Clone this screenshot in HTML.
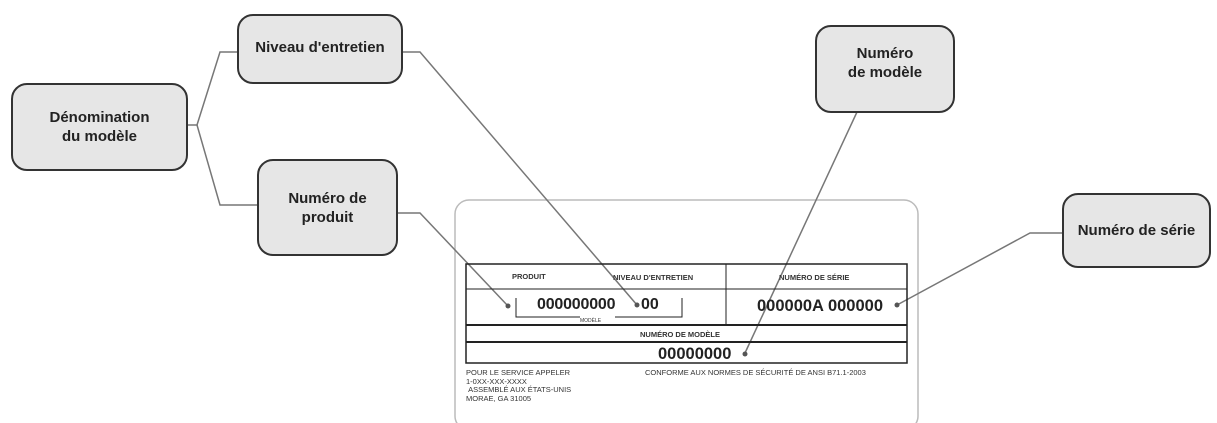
<!DOCTYPE html>
<html><head><meta charset="utf-8"><style>
body{margin:0;background:#fff;width:1217px;height:423px;overflow:hidden;position:relative;font-family:"Liberation Sans",sans-serif}
.b{position:absolute;box-sizing:border-box;background:#e6e6e6;border:2px solid #333;border-radius:16px;display:flex;align-items:center;justify-content:center;text-align:center;font-weight:bold;font-size:15px;line-height:19px;color:#222}
svg{position:absolute;left:0;top:0}
.t{position:absolute;font-size:7.5px;color:#333;white-space:nowrap}
.n{position:absolute;font-size:16px;font-weight:bold;color:#222;white-space:nowrap}
</style></head><body>
<svg width="1217" height="423">
<rect x="455" y="200" width="463" height="230" rx="14" fill="#fff" stroke="#bbb" stroke-width="1.5"/>
<g fill="none" stroke="#777" stroke-width="1.5">
<polyline points="187,125 197,125 220,52 237,52"/>
<polyline points="197,125 220,205 257,205"/>
<polyline points="402,52 420,52 637,305"/>
<polyline points="397,213 420,213 508,306"/>
<polyline points="857,112 745,353"/>
<polyline points="1062,233 1030,233 897,305"/>
</g>
<g fill="none" stroke="#222">
<rect x="466" y="264" width="441" height="99" stroke-width="1.5"/>
<line x1="466" y1="289" x2="907" y2="289" stroke-width="1"/>
<line x1="466" y1="325" x2="907" y2="325" stroke-width="2"/>
<line x1="466" y1="342" x2="907" y2="342" stroke-width="2"/>
<line x1="726" y1="264" x2="726" y2="325" stroke-width="1"/>
<polyline points="516,298 516,317 580,317" stroke-width="1"/>
<polyline points="615,317 682,317 682,298" stroke-width="1"/>
</g>
<g fill="#555"><circle cx="508" cy="306" r="2.5"/><circle cx="637" cy="305" r="2.5"/><circle cx="897" cy="305" r="2.5"/><circle cx="745" cy="354" r="2.5"/></g>
</svg>
<div class="b" style="left:11px;top:83px;width:177px;height:88px">Dénomination<br>du modèle</div>
<div class="b" style="left:237px;top:14px;width:166px;height:70px;align-items:flex-start;padding-top:22px">Niveau d'entretien</div>
<div class="b" style="left:257px;top:159px;width:141px;height:97px">Numéro de<br>produit</div>
<div class="b" style="left:815px;top:25px;width:140px;height:88px;align-items:flex-start;padding-top:17px">Numéro<br>de modèle</div>
<div class="b" style="left:1062px;top:193px;width:149px;height:75px">Numéro de série</div>
<div class="t" style="left:512px;top:272px;font-weight:bold">PRODUIT</div>
<div class="t" style="left:613px;top:273px;font-weight:bold">NIVEAU D'ENTRETIEN</div>
<div class="t" style="left:779px;top:273px;font-weight:bold">NUMÉRO DE SÉRIE</div>
<div class="n" style="left:537px;top:296px;letter-spacing:-0.2px">000000000</div>
<div class="n" style="left:641px;top:296px">00</div>
<div class="t" style="left:580px;top:318px;font-size:5px">MODÈLE</div>
<div class="n" style="left:757px;top:297px;font-size:16.5px">000000A 000000</div>
<div class="t" style="left:640px;top:330px;font-weight:bold">NUMÉRO DE MODÈLE</div>
<div class="n" style="left:658px;top:345px;font-size:16.5px">00000000</div>
<div class="t" style="left:645px;top:368px">CONFORME AUX NORMES DE SÉCURITÉ DE ANSI B71.1-2003</div>
<div class="t" style="left:466px;top:369px;line-height:8.5px">POUR LE SERVICE APPELER<br>1-0XX-XXX-XXXX<br>&nbsp;ASSEMBLÉ AUX ÉTATS-UNIS<br>MORAE, GA 31005</div>
</body></html>
